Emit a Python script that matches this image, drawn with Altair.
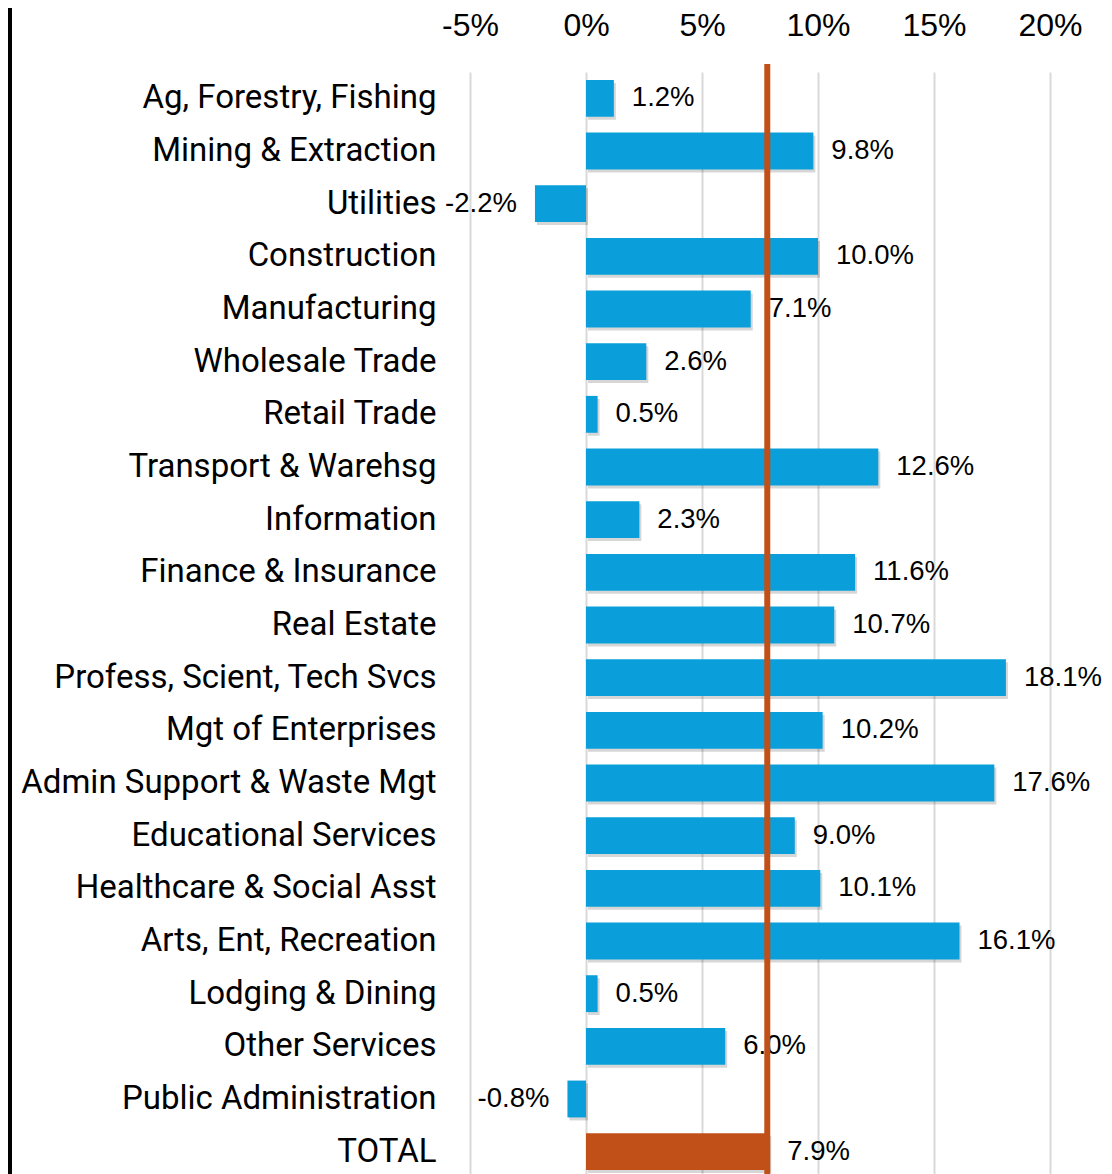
import altair as alt
import pandas as pd

categories = [
    "Ag, Forestry, Fishing", "Mining & Extraction", "Utilities", "Construction",
    "Manufacturing", "Wholesale Trade", "Retail Trade", "Transport & Warehsg",
    "Information", "Finance & Insurance", "Real Estate", "Profess, Scient, Tech Svcs",
    "Mgt of Enterprises", "Admin Support & Waste Mgt", "Educational Services",
    "Healthcare & Social Asst", "Arts, Ent, Recreation", "Lodging & Dining",
    "Other Services", "Public Administration", "TOTAL",
]
values = [1.2, 9.8, -2.2, 10.0, 7.1, 2.6, 0.5, 12.6, 2.3, 11.6, 10.7, 18.1,
          10.2, 17.6, 9.0, 10.1, 16.1, 0.5, 6.0, -0.8, 7.9]
tick_values = [-5, 0, 5, 10, 15, 20]

df = pd.DataFrame({"category": categories, "value": values})
df["label"] = [f"{v:.1f}%" for v in values]
df["is_total"] = ["yes" if c == "TOTAL" else "no" for c in categories]

W = 580
H = 1106
BLUE = "#0A9FDA"
ORANGE = "#C05018"

y_enc = alt.Y("category:N", sort=categories, axis=alt.Axis(
    title=None, domain=False, ticks=False, labelPadding=34,
    labelFontSize=33, labelFont="Roboto", labelColor="#000",
    labelLimit=600),
    scale=alt.Scale(paddingInner=0.3, paddingOuter=0.15))

x_scale = alt.Scale(domain=[-5, 20], nice=False)

base = alt.Chart(df)

shadow = base.mark_bar(color="#000", opacity=0.16, xOffset=2, yOffset=3).encode(
    x=alt.X("value:Q", scale=x_scale),
    y=alt.Y("category:N", sort=categories),
)

bars = base.mark_bar().encode(
    x=alt.X("value:Q", scale=x_scale, axis=alt.Axis(
        orient="top", values=tick_values, labelExpr="datum.value + '%'",
        title=None, domain=False, ticks=False, labelPadding=30,
        labelFlush=False, labelOverlap=False,
        labelFontSize=32, labelFont="Liberation Sans", labelColor="#000",
        grid=True, gridColor="#D9D9D9", gridWidth=2)),
    y=y_enc,
    color=alt.Color("is_total:N", scale=alt.Scale(domain=["no", "yes"], range=[BLUE, ORANGE]), legend=None),
)

pos_labels = base.transform_filter("datum.value >= 0").mark_text(
    align="left", dx=18, fontSize=27.5, font="Liberation Sans", color="#000"
).encode(x="value:Q", y=alt.Y("category:N", sort=categories), text="label:N")

neg_labels = base.transform_filter("datum.value < 0").mark_text(
    align="right", dx=-18, fontSize=27.5, font="Liberation Sans", color="#000"
).encode(x="value:Q", y=alt.Y("category:N", sort=categories), text="label:N")

line = base.transform_filter("datum.category == 'TOTAL'").mark_rule(
    color=ORANGE, strokeWidth=6, xOffset=-2
).encode(x="value:Q", y=alt.value(-8), y2=alt.value(H + 20))

border = alt.Chart(pd.DataFrame({"v": [0]})).mark_rule(color="#000", strokeWidth=4).encode(
    x=alt.value(-460), y=alt.value(-70), y2=alt.value(H + 20)
)

chart = alt.layer(shadow, bars, pos_labels, neg_labels, line, border).properties(
    width=W, height=H,
    autosize=alt.AutoSizeParams(type="none"),
    padding={"left": 462, "top": 64, "right": 54, "bottom": 10},
).configure_view(stroke=None)

chart.save("out.html", embed_options={"renderer": "svg", "actions": False})
